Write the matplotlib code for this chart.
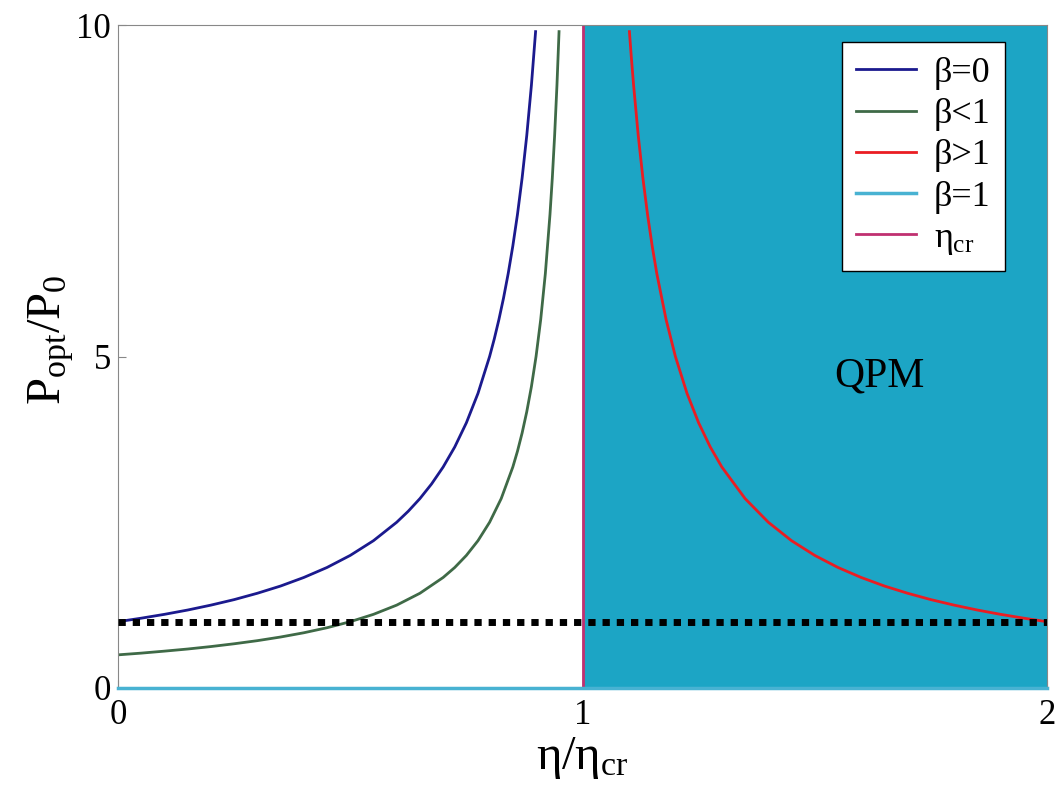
import matplotlib
matplotlib.use("Agg")
import matplotlib.pyplot as plt

plt.rcParams["font.family"] = ["Liberation Serif", "DejaVu Serif"]
plt.rcParams["mathtext.fontset"] = "custom"
plt.rcParams["mathtext.rm"] = "Liberation Serif"
plt.rcParams["mathtext.it"] = "Liberation Serif"

# -----------------------------
# values
# -----------------------------
eta_b0 = [0.0, 0.05, 0.1, 0.15, 0.2, 0.25, 0.3, 0.35, 0.4, 0.45, 0.5, 0.55, 0.6,
          0.625, 0.65, 0.675, 0.7, 0.725, 0.75, 0.775, 0.8, 0.81, 0.82, 0.83,
          0.84, 0.85, 0.86, 0.87, 0.88, 0.89, 0.899]
p_b0 = [1.0, 1.053, 1.111, 1.176, 1.25, 1.333, 1.429, 1.538, 1.667, 1.818, 2.0,
        2.222, 2.5, 2.667, 2.857, 3.077, 3.333, 3.636, 4.0, 4.444, 5.0, 5.263,
        5.556, 5.882, 6.25, 6.667, 7.143, 7.692, 8.333, 9.091, 9.9]

eta_blt1 = [0.0, 0.05, 0.1, 0.15, 0.2, 0.25, 0.3, 0.35, 0.4, 0.45, 0.5, 0.55, 0.6,
            0.65, 0.7, 0.725, 0.75, 0.775, 0.8, 0.825, 0.85, 0.86, 0.87, 0.88,
            0.89, 0.9, 0.91, 0.92, 0.93, 0.935, 0.94, 0.945, 0.9495]
p_blt1 = [0.5, 0.526, 0.556, 0.588, 0.625, 0.667, 0.714, 0.769, 0.833, 0.909, 1.0,
          1.111, 1.25, 1.429, 1.667, 1.818, 2.0, 2.222, 2.5, 2.857, 3.333, 3.571,
          3.846, 4.167, 4.545, 5.0, 5.556, 6.25, 7.143, 7.692, 8.333, 9.091, 9.9]

eta_bgt1 = [1.101, 1.105, 1.11, 1.12, 1.13, 1.14, 1.15, 1.16, 1.18, 1.2, 1.225,
            1.25, 1.275, 1.3, 1.35, 1.4, 1.45, 1.5, 1.55, 1.6, 1.65, 1.7, 1.75,
            1.8, 1.85, 1.9, 1.95, 2.0]
p_bgt1 = [9.9, 9.524, 9.091, 8.333, 7.692, 7.143, 6.667, 6.25, 5.556, 5.0, 4.444,
          4.0, 3.636, 3.333, 2.857, 2.5, 2.222, 2.0, 1.818, 1.667, 1.538, 1.429,
          1.333, 1.25, 1.176, 1.111, 1.053, 1.0]

eta_b1 = [0.0, 2.0]
p_b1 = [0.0, 0.0]

ref_level = 1.0
eta_cr = 1.0

# -----------------------------
# figure
# -----------------------------
fig = plt.figure(figsize=(10.59, 7.99), dpi=100)
ax = fig.add_axes([118 / 1059, 1 - 688 / 799, (1047 - 118) / 1059, (688 - 25) / 799])

ax.axvspan(eta_cr, 2.0, color="#1ca5c5", zorder=0)

ax.plot(eta_b0, p_b0, color="#1b1a8e", lw=2, label="β=0")
ax.plot(eta_blt1, p_blt1, color="#3f6a47", lw=2, label="β<1")
ax.plot(eta_bgt1, p_bgt1, color="#ea1d22", lw=2, label="β>1")
ax.plot(eta_b1, p_b1, color="#48b2d2", lw=2.5, label="β=1", zorder=6, clip_on=False)
ax.axvline(eta_cr, color="#c03070", lw=2, label=r"$\eta_{cr}$")
ax.axhline(ref_level, color="black", lw=5, ls=(0, (1.05, 1.0)), zorder=5)

ax.text(1.64, 4.7, "QPM", fontsize=30, ha="center", va="center")

ax.set_xlim(0, 2)
ax.set_ylim(0, 10)
ax.set_xticks([0, 1, 2])
ax.set_yticks([0, 5, 10])
ax.tick_params(direction="in", labelsize=25, length=6, color="#888888")
ax.tick_params(axis="x", pad=8)
ax.tick_params(axis="y", pad=5)
for s in ax.spines.values():
    s.set_color("#888888")

ax.set_xlabel(r"$\eta/\eta_{cr}$", fontsize=35, labelpad=2)
ax.set_ylabel(r"$\mathrm{P_{opt}/P_0}$", fontsize=35)
ax.yaxis.set_label_coords(-0.045, 0.525)

leg = ax.legend(loc="upper right", fontsize=26, fancybox=False, framealpha=1,
                edgecolor="black", handlelength=1.65, handletextpad=0.5,
                borderpad=0.4, labelspacing=0.22, borderaxespad=0,
                bbox_to_anchor=(0.955, 0.974))
leg.get_frame().set_linewidth(1)

plt.savefig("out.png", dpi=100)
